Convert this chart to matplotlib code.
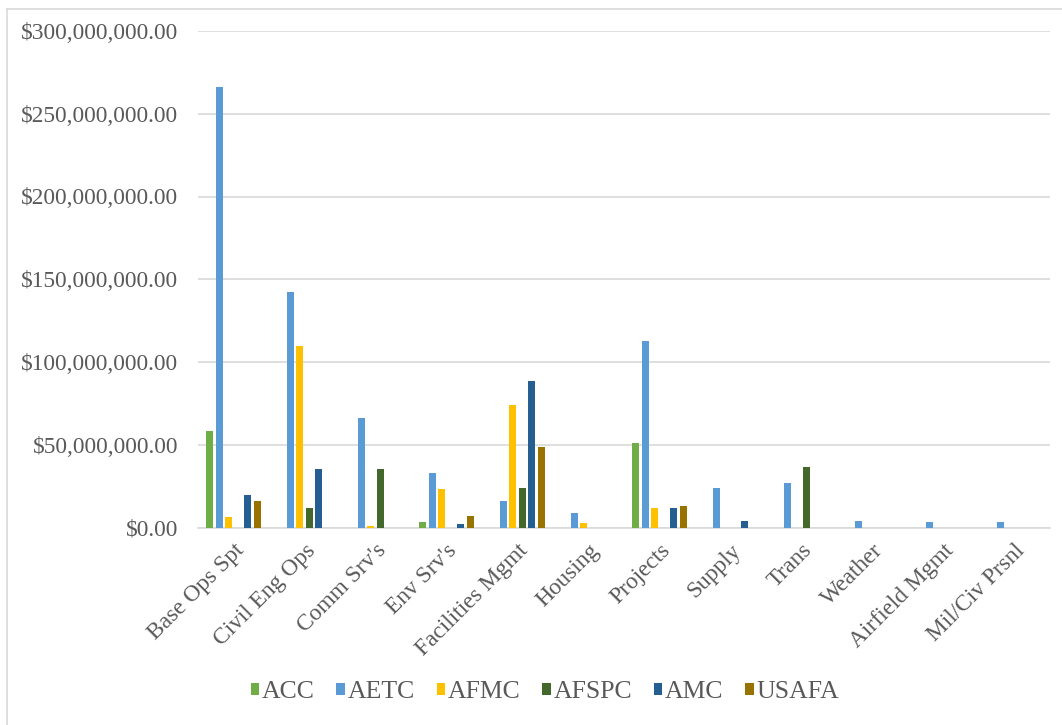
import numpy as np
import matplotlib.pyplot as plt
from matplotlib.lines import Line2D
from matplotlib.patches import Patch
from matplotlib.ticker import FuncFormatter

# Spending by functional area and command, in millions of dollars
categories = ['Base Ops Spt', 'Civil Eng Ops', "Comm Srv's", "Env Srv's",
              'Facilities Mgmt', 'Housing', 'Projects', 'Supply', 'Trans',
              'Weather', 'Airfield Mgmt', 'Mil/Civ Prsnl']

acc = [58.5, 0, 0, 3.3, 0, 0, 51.0, 0, 0, 0, 0, 0]
aetc = [265.9, 142.5, 66.3, 33.2, 16.3, 8.8, 112.8, 24.0, 27.0, 4.1, 3.3, 3.3]
afmc = [6.5, 109.6, 1.0, 23.4, 74.2, 2.7, 11.8, 0, 0, 0, 0, 0]
afspc = [0, 11.8, 35.6, 0, 24.0, 0, 0, 0, 36.4, 0, 0, 0]
amc = [19.5, 35.6, 0, 2.4, 88.8, 0, 11.8, 4.1, 0, 0, 0, 0]
usafa = [16.3, 0, 0, 7.1, 48.6, 0, 13.2, 0, 0, 0, 0, 0]

series_names = ['ACC', 'AETC', 'AFMC', 'AFSPC', 'AMC', 'USAFA']
series_values = [acc, aetc, afmc, afspc, amc, usafa]
colors = ['#70AD47', '#5B9BD5', '#FFC000', '#43682B', '#255E91', '#997300']

TEXT = '#595959'
GRID = '#D9D9D9'
FS = 16.8
LEGEND_FS = 18.5

plt.rcParams['font.family'] = 'Liberation Serif'

fig = plt.figure(figsize=(10.62, 7.25), dpi=100)
ax = fig.add_axes([198 / 1062, 1 - 527.5 / 725, (1050 - 198) / 1062, (527.5 - 31) / 725])

x = np.arange(len(categories))
slot = 0.134
width = 0.1
for i, (name, vals, col) in enumerate(zip(series_names, series_values, colors)):
    offset = (i - 2.5) * slot
    ax.bar(x + offset, np.array(vals) * 1e6, width=width, color=col, label=name, zorder=3)

ax.set_xlim(-0.5, len(categories) - 0.5)
ax.set_ylim(0, 300e6)
ax.set_yticks(np.arange(0, 300e6 + 1, 50e6))
ax.yaxis.set_major_formatter(FuncFormatter(lambda v, p: f'${v:,.2f}'))
ax.grid(axis='y', color=GRID, linewidth=1.2, zorder=0)
for side in ['top', 'right', 'left']:
    ax.spines[side].set_visible(False)
ax.spines['bottom'].set_color(GRID)
ax.spines['bottom'].set_linewidth(1.2)

ax.set_xticks(x)
ax.set_xticklabels(categories, rotation=45, ha='right', rotation_mode='anchor',
                   fontsize=FS, color=TEXT)
ax.tick_params(axis='x', length=0, pad=9)
ax.tick_params(axis='y', length=0, pad=14, labelsize=FS, labelcolor=TEXT)

handles = [Patch(facecolor=c, edgecolor='none') for c in colors]
fig.legend(handles, series_names, loc='center', bbox_to_anchor=(0.513, 1 - 692 / 725),
           ncol=6, frameon=False, fontsize=LEGEND_FS, labelcolor=TEXT,
           handlelength=0.33, handleheight=0.33, handletextpad=0.1, columnspacing=0.85)

# light outline of the chart area along the top and left edges
fig.add_artist(Line2D([7 / 1062, 7 / 1062], [0, 1 - 8.5 / 725], transform=fig.transFigure,
                      color=GRID, linewidth=1.2))
fig.add_artist(Line2D([7 / 1062, 1], [1 - 8.5 / 725, 1 - 8.5 / 725], transform=fig.transFigure,
                      color=GRID, linewidth=1.2))

fig.savefig('out.png', dpi=100, facecolor='white')
